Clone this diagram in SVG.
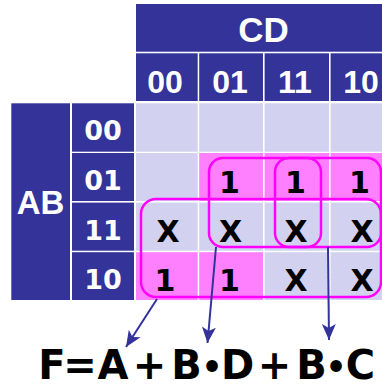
<svg xmlns="http://www.w3.org/2000/svg" width="382" height="386" viewBox="0 0 382 386">
<style>
.hd{fill:#333399}
.lv{fill:#d2d2f0}
.pk{fill:#ff80ff}
.ht{fill:#fff;font-family:"Liberation Sans",Arial,sans-serif;font-weight:bold;text-anchor:middle}
.rt{fill:#fff;font-family:"DejaVu Sans",sans-serif;font-weight:bold;text-anchor:middle;font-size:27px}
.ct{fill:#000;font-family:"DejaVu Sans",sans-serif;font-weight:bold;text-anchor:middle;font-size:30px}
.loop{fill:none;stroke:#ff00ff;stroke-width:2.5}
.arr{fill:none;stroke:#333399;stroke-width:2;marker-end:url(#ah)}
.fx{fill:#000;font-family:"DejaVu Sans",sans-serif;font-weight:bold;text-anchor:middle;font-size:40px}
.bl{font-size:33px}
</style>
<defs>
<marker id="ah" markerUnits="userSpaceOnUse" markerWidth="18" markerHeight="16" refX="16" refY="7" orient="auto" viewBox="0 0 18 14">
<path d="M0,0 L16,7 L0,14 L4,7 z" fill="#333399"/>
</marker>
</defs>
<rect width="382" height="386" fill="#fff"/>
<g id="header-cd">
<rect class="hd" x="136" y="4" width="246" height="47.7"/>
<text class="ht" x="263.5" y="42" font-size="35">CD</text>
</g>
<g id="col-headers">
<rect class="hd" x="136" y="53.3" width="61.7" height="47.7"/>
<rect class="hd" x="199.2" y="53.3" width="63.8" height="47.7"/>
<rect class="hd" x="264.6" y="53.3" width="64.4" height="47.7"/>
<rect class="hd" x="330.6" y="53.3" width="51.4" height="47.7"/>
<text class="ht" font-size="32" x="165" y="92.5">00</text>
<text class="ht" font-size="32" x="230" y="92.5">01</text>
<text class="ht" font-size="32" x="295" y="92.5">11</text>
<text class="ht" font-size="32" x="361" y="92.5">10</text>
</g>
<g id="header-ab">
<rect class="hd" x="11.3" y="103.3" width="58.7" height="196.7"/>
<text class="ht" x="40.5" y="214" font-size="33">AB</text>
</g>
<g id="row-headers">
<rect class="hd" x="72" y="103.3" width="62" height="48.4"/>
<rect class="hd" x="72" y="153" width="62" height="48"/>
<rect class="hd" x="72" y="202.6" width="62" height="48.1"/>
<rect class="hd" x="72" y="252.2" width="62" height="47.8"/>
<text class="rt" x="103" y="140">00</text>
<text class="rt" x="103" y="190">01</text>
<text class="rt" x="103" y="239.5">11</text>
<text class="rt" x="103" y="289">10</text>
</g>
<g id="cells">
<rect class="lv" x="136" y="103.3" width="61.7" height="48.4"/>
<rect class="lv" x="199.2" y="103.3" width="63.8" height="48.4"/>
<rect class="lv" x="264.6" y="103.3" width="64.4" height="48.4"/>
<rect class="lv" x="330.6" y="103.3" width="51.4" height="48.4"/>
<rect class="lv" x="136" y="153" width="61.7" height="48"/>
<rect class="pk" x="199.2" y="153" width="63.8" height="48"/>
<rect class="pk" x="264.6" y="153" width="64.4" height="48"/>
<rect class="pk" x="330.6" y="153" width="51.4" height="48"/>
<rect class="lv" x="136" y="202.6" width="61.7" height="48.1"/>
<rect class="lv" x="199.2" y="202.6" width="63.8" height="48.1"/>
<rect class="lv" x="264.6" y="202.6" width="64.4" height="48.1"/>
<rect class="lv" x="330.6" y="202.6" width="51.4" height="48.1"/>
<rect class="pk" x="136" y="252.2" width="61.7" height="47.8"/>
<rect class="pk" x="199.2" y="252.2" width="63.8" height="47.8"/>
<rect class="lv" x="264.6" y="252.2" width="64.4" height="47.8"/>
<rect class="lv" x="330.6" y="252.2" width="51.4" height="47.8"/>
<text class="ct" x="229.5" y="193">1</text>
<text class="ct" x="295.5" y="193">1</text>
<text class="ct" x="359.5" y="193">1</text>
<text class="ct" x="168" y="241.7">X</text>
<text class="ct" x="230.5" y="241.7">X</text>
<text class="ct" x="296" y="241.7">X</text>
<text class="ct" x="362" y="241.7">X</text>
<text class="ct" x="165" y="290.5">1</text>
<text class="ct" x="229.5" y="290.5">1</text>
<text class="ct" x="296" y="290.5">X</text>
<text class="ct" x="362" y="290.5">X</text>
</g>
<g id="loops">
<rect class="loop" x="141" y="199" width="240" height="98" rx="15"/>
<rect class="loop" x="209" y="158" width="112" height="89" rx="14"/>
<rect class="loop" x="275" y="158" width="106" height="89" rx="14"/>
</g>
<g id="connectors">
<line class="arr" x1="157" y1="299" x2="126" y2="347"/>
<line class="arr" x1="216" y1="247" x2="207.5" y2="343"/>
<line class="arr" x1="328" y1="247" x2="329" y2="340"/>
</g>
<g id="formula">
<text class="fx" y="379"><tspan x="52 80 113 149.5 186.5">F=A+B</tspan><tspan class="bl" x="212">•</tspan><tspan x="237.5 274.5 311.5">D+B</tspan><tspan class="bl" x="336">•</tspan><tspan x="360.5">C</tspan></text>
</g>
</svg>
